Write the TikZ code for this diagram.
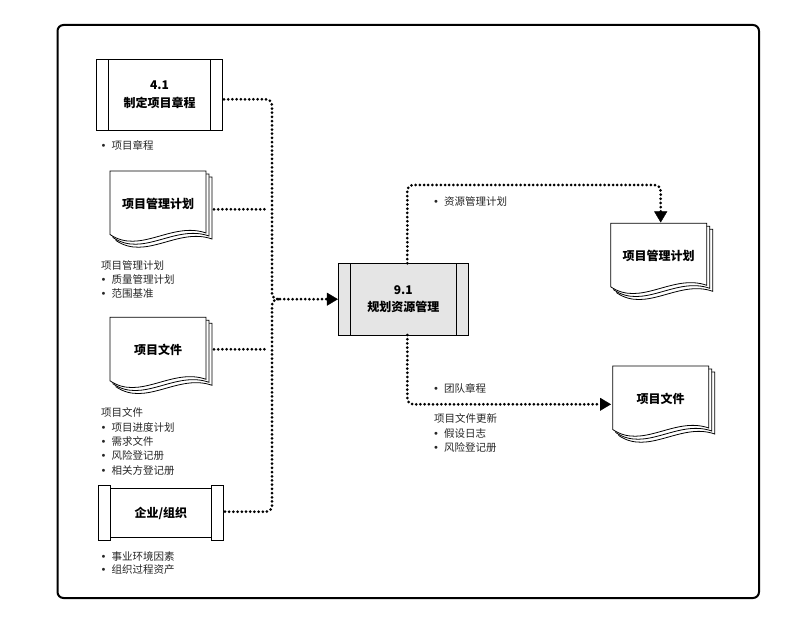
\documentclass[tikz,border=0pt]{standalone}
\usepackage{fontspec}
\setmainfont{Noto Sans CJK SC}
\newfontfamily\dv{DejaVu Sans}
\usetikzlibrary{arrows.meta,calc}
\newcommand\bul{\makebox[11pt][l]{\dv\fontsize{10}{12}\selectfont •}}
\newcommand\docsheet[2]{%
  \filldraw[fill=white,draw=black,line width=0.8pt] (#1,#2) -- (#1+96,#2) -- (#1+96,#2+62)
    .. controls (#1+62,#2+50) and (#1+30,#2+84) .. (#1,#2+63.5) -- cycle;}
\newcommand\docshape[4]{%
  \docsheet{#1+6}{#2+6}\docsheet{#1+3}{#2+3}\docsheet{#1}{#2}%
  \node[doctext] (#3) at (#1+48,#2+33) {#4};}
\tikzset{
  procbox/.style={draw=black, line width=0.8pt, align=center, inner sep=0pt,
    font=\bfseries\fontsize{12}{17.5}\selectfont,
    path picture={
      \draw[line width=0.8pt] ([xshift=12pt]path picture bounding box.north west) -- ([xshift=12pt]path picture bounding box.south west);
      \draw[line width=0.8pt] ([xshift=-12pt]path picture bounding box.north east) -- ([xshift=-12pt]path picture bounding box.south east);
    }},
  doctext/.style={inner sep=0pt, font=\bfseries\fontsize{12}{14}\selectfont},
  lst/.style={anchor=west, inner sep=0pt, font=\fontsize{10.5}{12}\selectfont, text=black!85},
  conn/.style={line width=3pt, dash pattern=on 0pt off 4.2pt, line cap=round, rounded corners=6pt},
  tip/.tip={Triangle[length=11pt,width=13pt,line width=0.4pt]}
}
\begin{document}
\begin{tikzpicture}[x=1pt,y=-1pt]
\useasboundingbox (0,0) rectangle (800,620);
\draw[line width=2pt, rounded corners=6pt] (57.5,25) rectangle (759,598);

% 4.1 process
\node[procbox, minimum width=125.6pt, minimum height=70.7pt] (p41) at (159.5,94.7) {4.1\\制定项目章程};
\node[lst] (l41) at (100.5,145.7) {\bul 项目章程};

% documents left
\docshape{110}{171}{d1}{项目管理计划}
\node[lst] (l1a) at (100.8,265) {项目管理计划};
\node[lst] (l1b) at (100.5,279.5) {\bul 质量管理计划};
\node[lst] (l1c) at (100.5,294) {\bul 范围基准};

\docshape{110}{317.3}{d2}{项目文件}
\node[lst] (l2a) at (100.8,412.7) {项目文件};
\node[lst] (l2b) at (100.5,427.3) {\bul 项目进度计划};
\node[lst] (l2c) at (100.5,441.7) {\bul 需求文件};
\node[lst] (l2d) at (100.5,456) {\bul 风险登记册};
\node[lst] (l2e) at (100.5,470.7) {\bul 相关方登记册};

% enterprise
\draw[line width=0.8pt] (98.3,485) rectangle (110,540.7);
\draw[line width=0.8pt] (211.7,485) rectangle (223.3,540.7);
\node[draw=black, line width=0.8pt, minimum width=101.7pt, minimum height=49.4pt, inner sep=0pt,
  font=\bfseries\fontsize{12}{14}\selectfont] (ent) at (160.85,513) {企业/组织};
\node[lst] (l3a) at (100.5,556) {\bul 事业环境因素};
\node[lst] (l3b) at (100.5,570) {\bul 组织过程资产};

% central process
\node[procbox, fill=gray!20, minimum width=130pt, minimum height=71.7pt] (cb) at (403.3,299.2) {9.1\\规划资源管理};

% right documents
\docshape{610.7}{223.3}{d3}{项目管理计划}
\docshape{612.7}{366}{d4}{项目文件}

% right labels
\node[lst] (r1) at (433,201.7) {\bul 资源管理计划};
\node[lst] (r2) at (433,388.3) {\bul 团队章程};
\node[lst] (r3) at (433.8,418.3) {项目文件更新};
\node[lst] (r4) at (433,433.3) {\bul 假设日志};
\node[lst] (r5) at (433,447.7) {\bul 风险登记册};

% connectors
\coordinate (o41) at (224,99.3);
\coordinate (od1) at (214,209.3);
\coordinate (od2) at (214,349.3);
\coordinate (oent) at (225,511.7);
\coordinate (e1) at (268,209.3);
\coordinate (e2) at (268,349.3);
\coordinate (bus) at (272,299.2);
\coordinate (j) at (280,299.2);
\draw[conn] (o41) -| (bus) -- (j);
\draw[conn] (od1) -- (e1);
\draw[conn] (od2) -- (e2);
\draw[conn] (oent) -| (bus) -- (j);
\draw[conn, -{tip}] (j) -- (cb.west);

\coordinate (ot) at (407.3,263.3);
\coordinate (it3) at (660.7,222.5);
\draw[conn, -{tip}] (ot) -- (407.3,185) -- (660.7,185) -- (it3);

\coordinate (ob) at (407.3,335);
\coordinate (it4) at (611,404.3);
\draw[conn, -{tip}] (ob) -- (407.3,404.3) -- (it4);
\end{tikzpicture}
\end{document}
